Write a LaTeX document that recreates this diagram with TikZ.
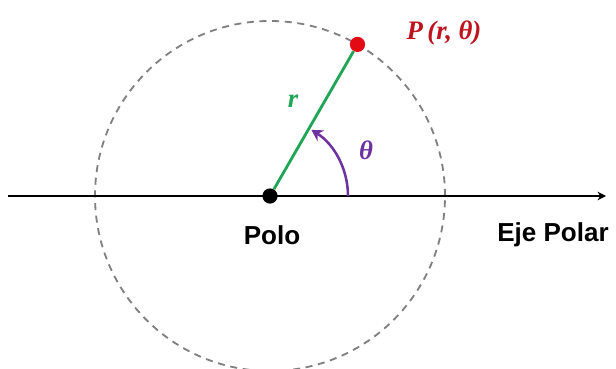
\documentclass[tikz,border=0pt]{standalone}
\usepackage{fontspec}
\setmainfont{Liberation Serif}
\setsansfont{Liberation Sans}
\usetikzlibrary{arrows.meta}

\definecolor{dotred}{RGB}{228,10,20}
\definecolor{labelred}{RGB}{190,20,30}
\definecolor{radgreen}{RGB}{30,165,85}
\definecolor{anglepurple}{RGB}{110,50,160}

\tikzset{
  dot/.style={circle, inner sep=0pt, minimum size=0.38cm},
  axislabel/.style={font=\sffamily\bfseries\fontsize{18.5}{20}\selectfont},
  mathlabel/.style={font=\bfseries\itshape\fontsize{19}{22}\selectfont}
}

\begin{document}
\begin{tikzpicture}[x=0.025cm, y=0.025cm]
        \useasboundingbox (-270,-172) rectangle (346,196);

        % Circle of radius r
        \draw[gray, line width=1.3pt, dash pattern=on 5pt off 4pt] (0,0) circle (175);

        % Polar axis
        \coordinate (start) at (-262,0);
        \coordinate (end) at (336,0);
        \draw[line width=2pt, -{Stealth[length=6pt, width=6pt]}] (start) -- (end);

        % Pole and point
        \node[dot, fill=black] (pole) at (0,0) {};
        \node[dot, fill=dotred] (P) at (60:175) {};

        % Radius
        \draw[radgreen, line width=2pt] (pole) -- (P);

        % Angle
        \draw[anglepurple, line width=1.8pt, -{Stealth[length=8pt, width=9pt]}] (0:78) arc (0:58:78);

        % Labels
        \node[mathlabel, text=labelred] (Plabel) at (174,163) {P\,(r, θ)};
        \node[mathlabel, text=radgreen] (rlabel) at (23,95) {r};
        \node[mathlabel, text=anglepurple] (thlabel) at (96,46) {θ};
        \node[axislabel] (polo) at (2,-39) {Polo};
        \node[axislabel] (eje) at (283,-39) {Eje Polar};
    \end{tikzpicture}
\end{document}
